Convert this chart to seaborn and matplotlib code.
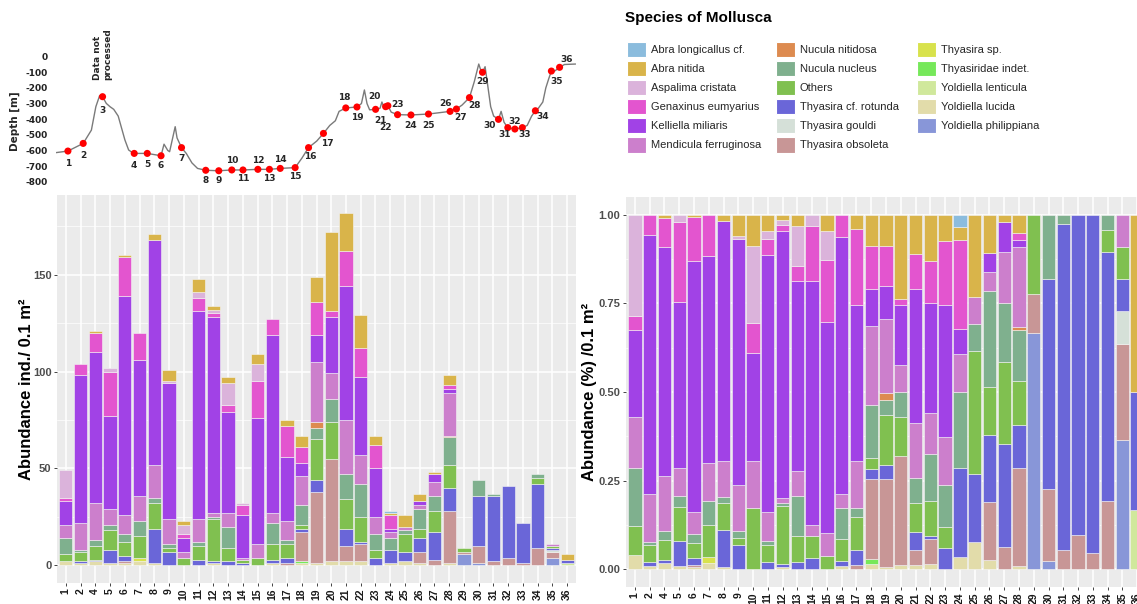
import numpy as np
import pandas as pd
import matplotlib
matplotlib.use("Agg")
import matplotlib.pyplot as plt
import seaborn as sns
from matplotlib.patches import Patch
from matplotlib.ticker import FixedLocator

# ---------------- data ----------------
stations = ["1", "2", "4", "5", "6", "7", "8", "9", "10", "11", "12", "13", "14", "15", "16", "17", "18",
            "19", "20", "21", "22", "23", "24", "25", "26", "27", "28", "29", "30", "31", "32", "33",
            "34", "35", "36"]

species = ["Abra longicallus cf.", "Abra nitida", "Aspalima cristata", "Genaxinus eumyarius",
           "Kelliella miliaris", "Mendicula ferruginosa", "Nucula nitidosa", "Nucula nucleus",
           "Others", "Thyasira cf. rotunda", "Thyasira gouldi", "Thyasira obsoleta",
           "Thyasira sp.", "Thyasiridae indet.", "Yoldiella lenticula", "Yoldiella lucida",
           "Yoldiella philippiana"]

colors = ["#8BBCDD", "#D9B44A", "#DBB3DB", "#E355CF", "#A142E6", "#CC7FCC", "#DD8B50", "#7FB08E",
          "#80C050", "#6A66D8", "#D5E0D8", "#C89696", "#D8E24C", "#76E85A", "#D0E89C", "#E2DCAA",
          "#8896D8"]

# abundance ind./0.1 m2 per station (stations order above)
abra_longicallus = [0, 0, 0, 0, 0,  0, 0, 0, 0, 0,  0, 0, 0, 0, 0,  0, 0, 0, 0, 0,  0, 0, 1, 0, 0,  0, 0, 0, 0, 0,  0, 0, 0, 0, 0]
abra_nitida      = [0, 0, 1, 0, 1,  0, 3, 6, 2, 7,  2, 3, 0, 5, 0,  3, 6, 13, 41, 20,  17, 5, 1, 6, 4,  1, 5, 0, 0, 0,  0, 0, 0, 0, 3]
aspalima         = [14, 0, 0, 2, 0,  0, 0, 1, 5, 3,  2, 11, 1, 9, 0,  0, 0, 0, 0, 0,  0, 0, 0, 0, 0,  0, 0, 0, 0, 0,  0, 0, 0, 0, 0]
genaxinus        = [2, 6, 10, 23, 20,  14, 0, 0, 2, 7,  2, 4, 5, 19, 8,  16, 8, 17, 3, 18,  15, 12, 7, 0, 0,  0, 2, 0, 0, 0,  0, 0, 0, 0, 0]
kelliella        = [12, 76, 78, 48, 113,  70, 116, 70, 7, 107,  101, 52, 22, 65, 92,  33, 7, 14, 29, 69,  40, 25, 2, 0, 2,  4, 2, 0, 0, 0,  0, 0, 0, 0, 0]
mendicula        = [7, 14, 19, 8, 10,  13, 17, 13, 3, 12,  2, 7, 1, 7, 5,  10, 15, 31, 13, 28,  15, 9, 3, 2, 2,  7, 22, 0, 0, 0,  0, 0, 0, 1, 0]
nucula_nitidosa  = [0, 0, 0, 0, 0,  0, 0, 0, 0, 0,  0, 0, 0, 0, 0,  0, 0, 3, 0, 0,  0, 0, 0, 0, 0,  0, 1, 0, 0, 0,  0, 0, 0, 0, 0]
nucula_nucleus   = [8, 1, 3, 3, 4,  8, 3, 2, 0, 2,  1, 11, 0, 0, 11,  2, 10, 6, 12, 13,  17, 8, 6, 2, 10,  8, 14, 0, 8, 1,  0, 0, 2, 0, 0]
others           = [4, 5, 7, 10, 7,  11, 13, 2, 4, 7,  22, 7, 2, 4, 8,  7, 2, 21, 19, 15,  13, 4, 0, 9, 5,  11, 12, 2, 0, 0,  0, 0, 3, 1, 0]
thyasira_rotunda = [0, 1, 1, 7, 3,  0, 18, 7, 0, 3,  1, 2, 1, 0, 2,  3, 2, 6, 0, 9,  1, 4, 7, 5, 7,  14, 12, 0, 26, 34,  37, 21, 33, 1, 2]
thyasira_gouldi  = [0, 0, 0, 0, 0,  0, 0, 0, 0, 0,  0, 0, 0, 0, 0,  0, 0, 0, 0, 0,  0, 0, 0, 0, 0,  0, 0, 0, 0, 0,  0, 0, 0, 1, 0]
thyasira_obsoleta = [0, 0, 0, 0, 1,  0, 0, 0, 0, 0,  0, 0, 0, 0, 0,  1, 15, 37, 53, 8,  9, 0, 0, 0, 6,  3, 27, 1, 9, 2,  4, 1, 9, 3, 0]
thyasira_sp      = [0, 0, 0, 0, 0,  2, 0, 0, 0, 0,  0, 0, 0, 0, 0,  0, 0, 0, 0, 0,  0, 0, 0, 0, 0,  0, 0, 0, 0, 0,  0, 0, 0, 0, 0]
thyasiridae      = [0, 0, 0, 0, 0,  0, 0, 0, 0, 0,  0, 0, 0, 0, 0,  0, 1, 0, 0, 0,  0, 0, 0, 0, 0,  0, 0, 0, 0, 0,  0, 0, 0, 0, 0]
yoldiella_lenticula = [0, 0, 0, 0, 0,  0, 0, 0, 0, 0,  0, 0, 0, 0, 0,  0, 0, 0, 0, 0,  0, 0, 0, 0, 0,  0, 0, 0, 0, 0,  0, 0, 0, 0, 1]
yoldiella_lucida = [2, 1, 2, 1, 1,  2, 1, 0, 0, 0,  1, 0, 0, 0, 1,  0, 1, 1, 2, 2,  2, 0, 1, 2, 1,  0, 1, 0, 0, 0,  0, 0, 0, 0, 0]
yoldiella_philippiana = [0, 0, 0, 0, 0,  0, 0, 0, 0, 0,  0, 0, 0, 0, 0,  0, 0, 0, 0, 0,  0, 0, 0, 0, 0,  0, 0, 6, 1, 0,  0, 0, 0, 4, 0]

series = [abra_longicallus, abra_nitida, aspalima, genaxinus, kelliella, mendicula, nucula_nitidosa,
          nucula_nucleus, others, thyasira_rotunda, thyasira_gouldi, thyasira_obsoleta, thyasira_sp,
          thyasiridae, yoldiella_lenticula, yoldiella_lucida, yoldiella_philippiana]

# bathymetric profile along the transect (distance in arbitrary units, depth in m)
profile_dist = [155, 187, 228, 250, 262, 272, 280, 290, 300, 310, 322, 330, 340, 350, 360, 365, 400, 437,
                445, 455, 460, 475, 480, 492, 505, 520, 535, 557, 592, 627, 657, 697, 728, 757, 797,
                815, 833, 855, 873, 890, 905, 915, 933, 963, 975, 983, 990, 997, 1013, 1025, 1030,
                1036, 1040, 1046, 1055, 1072, 1108, 1155, 1213, 1230, 1245, 1265, 1278, 1290, 1296,
                1300, 1307, 1315, 1322, 1330, 1343, 1350, 1358, 1368, 1387, 1407, 1420, 1432, 1442,
                1450, 1462, 1470, 1478, 1485, 1495, 1507, 1520, 1550]
profile_depth = [-614, -604, -555, -470, -320, -250, -256, -299, -320, -337, -380, -448, -533, -597, -614,
                 -619, -619, -634, -560, -600, -608, -448, -520, -582, -620, -680, -715, -727, -730,
                 -725, -725, -721, -721, -715, -710, -650, -582, -540, -491, -440, -410, -350, -328,
                 -322, -300, -213, -300, -340, -337, -330, -290, -330, -320, -314, -355, -371, -373,
                 -367, -350, -335, -310, -262, -160, -47, -90, -100, -64, -200, -320, -380, -401,
                 -350, -420, -454, -463, -454, -440, -380, -346, -330, -290, -200, -140, -92, -90,
                 -68, -50, -47]

station_dist = [187, 228, 280, 365, 400, 437, 492, 557, 592, 627, 657, 697, 728, 757, 797, 833, 873,
                933, 963, 1013, 1040, 1046, 1072, 1108, 1155, 1213, 1230, 1265, 1300, 1343, 1368,
                1387, 1407, 1442, 1485, 1507]
station_depth = [-604, -555, -256, -619, -619, -634, -582, -727, -730, -725, -725, -721, -721, -715,
                 -710, -582, -491, -328, -322, -337, -320, -314, -371, -373, -367, -350, -335, -262,
                 -100, -401, -454, -463, -454, -346, -92, -68]
station_names = [str(i) for i in range(1, 37)]
# label offsets in pixels (style)
label_off = [(0, -12), (0, -12), (0, -14), (0, -12), (0, -11), (0, -10), (0, -11), (0, -10), (0, -10),
             (0, 9), (0, -9), (0, 9), (0, -9), (0, 9), (0, -9), (2, -9), (4, -10), (-2, 10), (0, -10),
             (-1, 13), (-5, -14), (-2, -22), (0, 10), (0, -11), (0, -11), (-5, 8), (4, -8), (5, -8),
             (0, -9), (-9, -6), (-3, -7), (0, 8), (2, -7), (7, -6), (5, -10), (7, 8)]

# ---------------- build long table ----------------
rows = []
for sp, vals in zip(species, series):
    for st, v in zip(stations, vals):
        rows.append((st, sp, v))
df = pd.DataFrame(rows, columns=["station", "species", "abundance"])
df["station"] = pd.Categorical(df["station"], categories=stations, ordered=True)
palette = dict(zip(species, colors))

# ---------------- figure ----------------
sns.set_theme(style="darkgrid")
plt.rcParams["font.family"] = ["Liberation Sans", "DejaVu Sans"]

W, H = 1137, 604
fig = plt.figure(figsize=(W / 100, H / 100), dpi=100)


def rect(x0, y0, x1, y1):
    return [x0 / W, 1 - y1 / H, (x1 - x0) / W, (y1 - y0) / H]


def style_bar_axes(ax):
    ax.set_facecolor("#EBEBEB")
    for s in ax.spines.values():
        s.set_visible(False)
    ax.set_axisbelow(True)
    ax.grid(which="major", color="white", linewidth=1.1)
    ax.grid(which="minor", axis="y", color="white", linewidth=0.5)
    ax.set_xlim(-0.6, len(stations) - 0.4)
    ax.set_xticks(range(len(stations)))
    ax.set_xticklabels(stations, rotation=90, fontsize=7.5, fontweight="bold", color="#1A1A1A")
    ax.tick_params(axis="both", length=2.5, width=0.7, color="#444444", pad=1.5, bottom=True, left=True)
    for lab in ax.get_yticklabels():
        lab.set_fontweight("bold")
        lab.set_fontsize(8)
        lab.set_color("#4D4D4D")
    ax.set_xlabel("")
    for p in ax.patches:
        if p.get_height() == 0:
            p.set_visible(False)


hist_kw = dict(data=df, x="station", weights="abundance", hue="species", hue_order=species,
               palette=palette, discrete=True, shrink=0.9, edgecolor="#F4F4F4", linewidth=0.4,
               alpha=1, legend=False)

# left: absolute abundance
ax1 = fig.add_axes(rect(57, 195, 576, 583))
sns.histplot(multiple="stack", ax=ax1, **hist_kw)
ax1.set_ylim(-9.1, 191.1)
ax1.yaxis.set_major_locator(FixedLocator([0, 50, 100, 150]))
ax1.yaxis.set_minor_locator(FixedLocator([25, 75, 125, 175]))
ax1.set_yticklabels(["0", "50", "100", "150"])
style_bar_axes(ax1)
ax1.set_ylabel("Abundance ind./ 0.1 m²", fontsize=12, fontweight="bold", color="black", labelpad=-1)

# right: relative abundance
ax2 = fig.add_axes(rect(626, 197, 1146, 587))
sns.histplot(multiple="fill", ax=ax2, **hist_kw)
ax2.set_ylim(-0.05, 1.05)
ax2.yaxis.set_major_locator(FixedLocator([0, 0.25, 0.5, 0.75, 1.0]))
ax2.yaxis.set_minor_locator(FixedLocator([0.125, 0.375, 0.625, 0.875]))
ax2.set_yticklabels(["0.00", "0.25", "0.50", "0.75", "1.00"])
style_bar_axes(ax2)
ax2.set_ylabel("Abundance (%) /0.1 m²", fontsize=12, fontweight="bold", color="black", labelpad=1)

# top-left: depth profile
ax0 = fig.add_axes(rect(56, 52, 575.6, 189.5))
ax0.set_facecolor("none")
ax0.grid(False)
for s in ax0.spines.values():
    s.set_visible(False)
sns.lineplot(x=profile_dist, y=profile_depth, color="#7A7A7A", linewidth=1.0, ax=ax0, sort=False)
sns.scatterplot(x=station_dist, y=station_depth, color="#FF0000", s=26, edgecolor="none", ax=ax0,
                zorder=3)
ax0.set_xlim(155, 1550)
ax0.set_ylim(-850, 30)
ax0.set_xticks([])
ax0.set_yticks(range(-800, 1, 100))
ax0.set_yticklabels([str(v) for v in range(-800, 1, 100)], fontsize=6.5, fontweight="bold",
                    family="DejaVu Sans", color="#222222")
ax0.tick_params(axis="y", length=0, pad=6)
ax0.set_ylabel("Depth [m]", fontsize=7.5, fontweight="bold", family="DejaVu Sans", labelpad=4)
for name, xd, yd, (dx, dy) in zip(station_names, station_dist, station_depth, label_off):
    ax0.annotate(name, (xd, yd), xytext=(dx, dy), textcoords="offset pixels", ha="center",
                 va="center", fontsize=6.5, fontweight="bold", family="DejaVu Sans",
                 annotation_clip=False)
ax0.text(280, -150, "Data not\nprocessed", rotation=90, ha="center", va="bottom",
         multialignment="left", fontsize=6.5, fontweight="bold", family="DejaVu Sans",
         linespacing=1.15, clip_on=False)

# legend
fig.text(625 / W, 1 - 18 / H, "Species of Mollusca", fontsize=11, fontweight="bold", va="center",
         ha="left", color="black")
handles = [Patch(facecolor=c, edgecolor="white", linewidth=0.8) for c in colors]
col_x = [627, 776, 917]
splits = [(0, 6), (6, 12), (12, 17)]
for cx, (a, b) in zip(col_x, splits):
    fig.legend(handles[a:b], species[a:b], loc="upper left", bbox_to_anchor=(cx / W, 1 - 41.5 / H),
               frameon=False, fontsize=8, handlelength=1.7, handleheight=1.8, labelspacing=0.3,
               handletextpad=0.45, borderpad=0, borderaxespad=0)

fig.savefig("out.png", dpi=100)
